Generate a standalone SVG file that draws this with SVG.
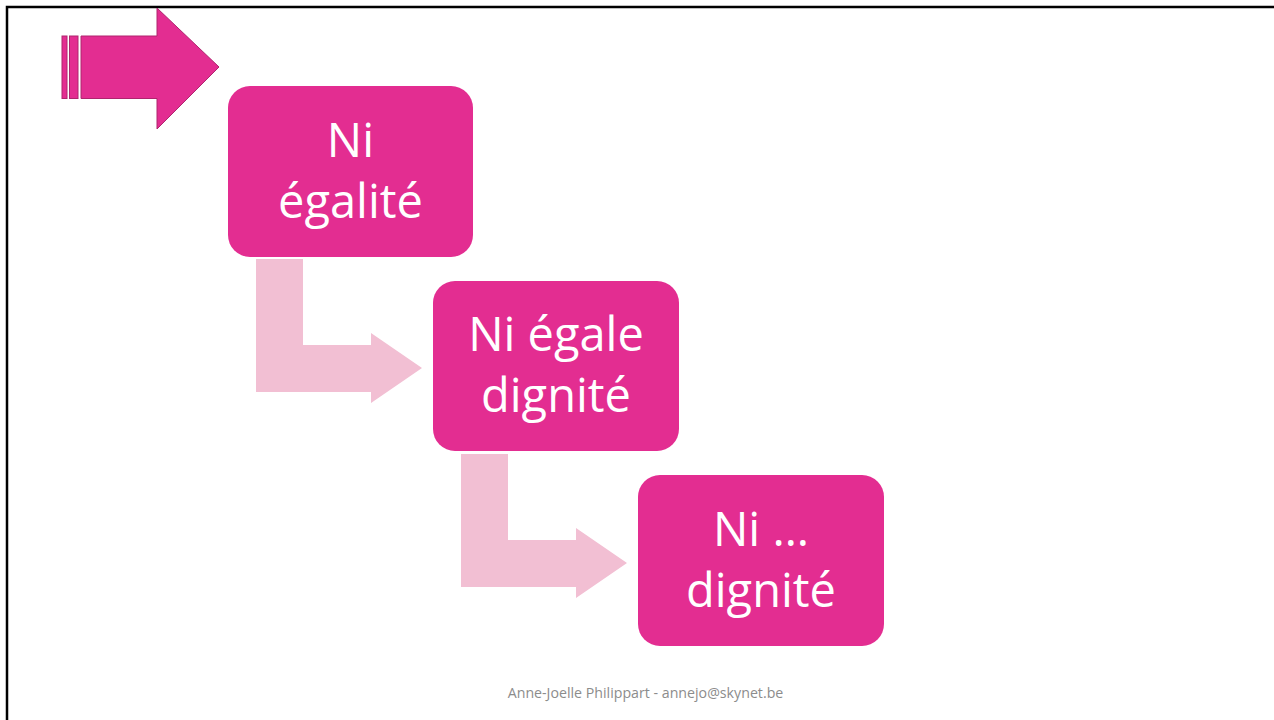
<svg xmlns="http://www.w3.org/2000/svg" width="1274" height="720" viewBox="0 0 1274 720">
<style>
.box{fill:#E32D91}
.lbl{font-family:"Open Sans","Liberation Sans",sans-serif;font-size:47px;fill:#ffffff;text-anchor:middle}
.conn{fill:#F2BFD3}
.big{fill:#E32D91;stroke:#B0246F;stroke-width:1}
.foot{font-family:"Open Sans","Liberation Sans",sans-serif;font-size:14.2px;fill:#8C8C8C;text-anchor:middle}
</style>
<rect x="0" y="0" width="1274" height="720" fill="#ffffff"/>
<path d="M7,720 V7 H1274" fill="none" stroke="#000000" stroke-width="2.5"/>
<g id="start-arrow">
<rect class="big" x="62" y="36" width="5" height="62.5"/>
<rect class="big" x="69.5" y="36" width="8.5" height="62.5"/>
<path class="big" d="M81,36 H157 V8 L219,67 L157,129 V98.5 H81 Z"/>
</g>
<g id="connectors">
<path class="conn" d="M256,259 H303 V345 H371 V333 L422,368 L371,403 V392 H256 Z"/>
<path class="conn" d="M461,454 H508 V540 H576 V528 L627,563 L576,598 V587 H461 Z"/>
</g>
<g id="node1">
<rect class="box" x="228" y="86" width="245" height="171" rx="22"/>
<text class="lbl" x="350.5" y="157">Ni</text>
<text class="lbl" x="350.5" y="218">égalité</text>
</g>
<g id="node2">
<rect class="box" x="433" y="281" width="246" height="170" rx="22"/>
<text class="lbl" x="556" y="351">Ni égale</text>
<text class="lbl" x="556" y="412">dignité</text>
</g>
<g id="node3">
<rect class="box" x="638" y="475" width="246" height="171" rx="22"/>
<text class="lbl" x="761" y="546">Ni …</text>
<text class="lbl" x="761" y="607">dignité</text>
</g>
<text class="foot" x="645.5" y="698">Anne-Joelle Philippart - annejo@skynet.be</text>
</svg>
